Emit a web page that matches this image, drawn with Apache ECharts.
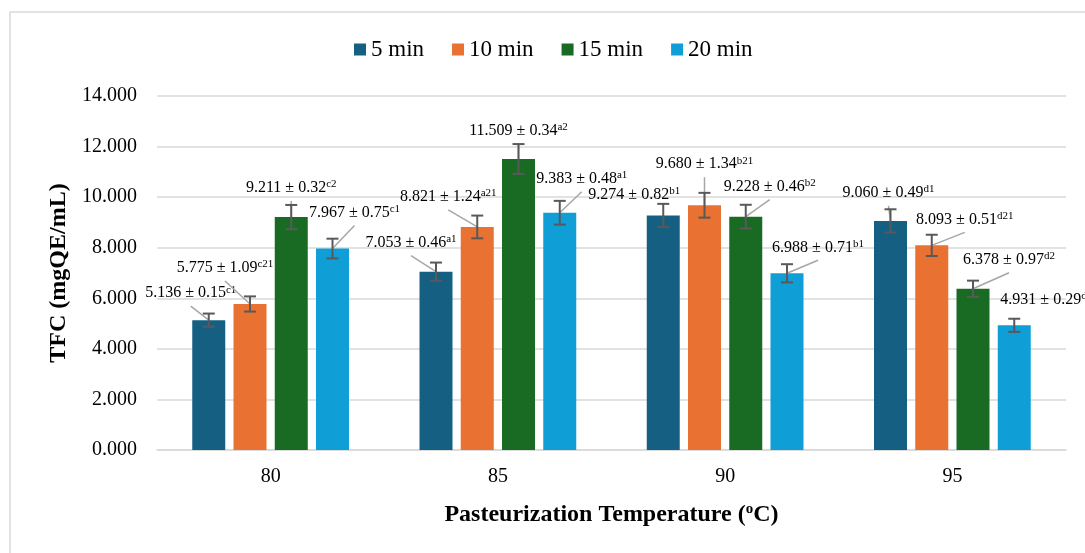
<!DOCTYPE html>
<html>
<head>
<meta charset="utf-8">
<title>TFC by pasteurization temperature</title>
<script src="https://cdn.jsdelivr.net/npm/echarts@6/dist/echarts.min.js"></script>
<style>
    html, body { margin: 0; padding: 0; background: #fff; }
    #chart { width: 1085px; height: 553px; }
</style>
</head>
<body>
<div id="chart"></div>
<script>
// categories
const temperatures = ["80", "85", "90", "95"];
const timeNames = ["5 min", "10 min", "15 min", "20 min"];

// mean TFC (mgQE/mL), one value per temperature
const tfc5 = [5.136, 7.053, 9.274, 9.060];
const tfc10 = [5.775, 8.821, 9.680, 8.093];
const tfc15 = [9.211, 11.509, 9.228, 6.378];
const tfc20 = [7.967, 9.383, 6.988, 4.931];

// half length of the error bars as drawn
const err5 = [0.26, 0.36, 0.46, 0.46];
const err10 = [0.30, 0.45, 0.49, 0.42];
const err15 = [0.48, 0.59, 0.47, 0.32];
const err20 = [0.39, 0.47, 0.36, 0.26];

// label text: sd and letters
const sd5 = ["0.15", "0.46", "0.82", "0.49"];
const sd10 = ["1.09", "1.24", "1.34", "0.51"];
const sd15 = ["0.32", "0.34", "0.46", "0.97"];
const sd20 = ["0.75", "0.48", "0.71", "0.29"];
const sup5 = ["c1", "a1", "b1", "d1"];
const sup10 = ["c21", "a21", "b21", "d21"];
const sup15 = ["c2", "a2", "b2", "d2"];
const sup20 = ["c1", "a1", "b1", "d1"];

const means = [tfc5, tfc10, tfc15, tfc20];
const errs = [err5, err10, err15, err20];
const sds = [sd5, sd10, sd15, sd20];
const sups = [sup5, sup10, sup15, sup20];

// layout / style
const colors = ["#156082", "#E97132", "#196B24", "#0F9ED5"];
const FONT = "'Liberation Serif', 'Times New Roman', serif";
const BAR_W = 33;
const STEP = BAR_W * 1.25; // bar width + gap
// label offset from the top centre of each bar (px)
const labelOffsets = [
    [[-18, -27], [-25, -29], [-29, -21], [-2, -28]],
    [[-25, -36], [-29, -30], [0, -41], [33, -26]],
    [[0, -29], [0, -28], [24, -30], [36, -29]],
    [[22, -36], [22, -34], [31, -26], [32, -26]]
];
const showLeader = [
    [1, 1, 0, 1],
    [1, 1, 1, 1],
    [1, 1, 1, 1],
    [1, 1, 1, 0]
];

let chart = echarts.init(document.getElementById("chart"));

let barSeries = timeNames.map((name, j) => ({
    name: name,
    type: "bar",
    barWidth: BAR_W,
    barGap: "25%",
    itemStyle: { color: colors[j] },
    data: means[j]
}));

let errData = [];
let labelData = [];
for (let j = 0; j < means.length; j++) {
    for (let i = 0; i < temperatures.length; i++) {
        errData.push([i, means[j][i], errs[j][i], j]);
        labelData.push([i, means[j][i], j]);
    }
}

const renderError = (params, api) => {
    let cat = api.value(0);
    let val = api.value(1);
    let err = api.value(2);
    let j = api.value(3);
    let top = api.coord([cat, val + err]);
    let bot = api.coord([cat, val - err]);
    let x = top[0] + (j - 1.5) * STEP;
    let style = { stroke: "#595959", lineWidth: 2 };
    return {
        type: "group",
        children: [
            { type: "line", shape: { x1: x, y1: top[1], x2: x, y2: bot[1] }, style: style },
            { type: "line", shape: { x1: x - 6, y1: top[1], x2: x + 6, y2: top[1] }, style: style },
            { type: "line", shape: { x1: x - 6, y1: bot[1], x2: x + 6, y2: bot[1] }, style: style }
        ]
    };
};

const renderLabel = (params, api) => {
    let cat = api.value(0);
    let val = api.value(1);
    let j = api.value(2);
    let p = api.coord([cat, val]);
    let bx = p[0] + (j - 1.5) * STEP;
    let by = p[1];
    let off = labelOffsets[j][cat];
    let lx = bx + off[0];
    let ly = by + off[1];
    let children = [];
    if (showLeader[j][cat]) {
        children.push({
            type: "line",
            shape: { x1: lx, y1: ly + 13, x2: bx, y2: by },
            style: { stroke: "#a6a6a6", lineWidth: 1.5 }
        });
    }
    children.push({
        type: "text",
        x: lx,
        y: ly,
        style: {
            text: "{v|" + means[j][cat].toFixed(3) + " ± " + sds[j][cat] + "}{s|" + sups[j][cat] + "}",
            align: "center",
            verticalAlign: "middle",
            rich: {
                v: { fontSize: 16, fontFamily: FONT, fill: "#000", lineHeight: 18 },
                s: { fontSize: 11, fontFamily: FONT, fill: "#000", lineHeight: 11, verticalAlign: "top" }
            }
        }
    });
    return { type: "group", children: children };
};

let option = {
    animation: false,
    backgroundColor: "#fff",
    color: colors,
    graphic: [{
        type: "rect",
        silent: true,
        shape: { x: 10, y: 12, width: 1200, height: 700 },
        style: { fill: "none", stroke: "#d9d9d9", lineWidth: 1.5 }
    }],
    legend: {
        data: timeNames,
        left: 349,
        top: 33,
        icon: "rect",
        itemWidth: 12,
        itemHeight: 12,
        itemGap: 28,
        textStyle: { fontSize: 23, fontFamily: FONT, color: "#000" }
    },
    grid: { left: 157, right: 19, top: 96, bottom: 103 },
    xAxis: {
        type: "category",
        data: temperatures,
        axisTick: { show: false },
        axisLine: { lineStyle: { color: "#d9d9d9", width: 1.5 } },
        axisLabel: { fontSize: 20, fontFamily: FONT, color: "#000", margin: 17 },
        name: "{b|Pasteurization Temperature (}{s|o}{b|C)}",
        nameLocation: "middle",
        nameGap: 52,
        nameTextStyle: {
            rich: {
                b: { fontSize: 24, fontWeight: "bold", fontFamily: FONT, color: "#000", lineHeight: 26 },
                s: { fontSize: 15, fontWeight: "bold", fontFamily: FONT, color: "#000", lineHeight: 15, verticalAlign: "top" }
            }
        }
    },
    yAxis: {
        type: "value",
        min: 0,
        max: 14,
        interval: 2,
        axisLabel: {
            fontSize: 20,
            fontFamily: FONT,
            color: "#000",
            margin: 20,
            formatter: v => v.toFixed(3)
        },
        splitLine: { lineStyle: { color: "#d9d9d9", width: 1.5 } },
        name: "TFC (mgQE/mL)",
        nameLocation: "middle",
        nameGap: 86,
        nameTextStyle: { fontSize: 24, fontWeight: "bold", fontFamily: FONT, color: "#000" }
    },
    series: barSeries.concat([
        {
            type: "custom",
            name: "leaders",
            renderItem: renderLabel,
            encode: { x: 0, y: 1 },
            data: labelData,
            z: 3,
            silent: true
        },
        {
            type: "custom",
            name: "errors",
            renderItem: renderError,
            encode: { x: 0, y: 1 },
            data: errData,
            z: 4,
            silent: true
        }
    ])
};

chart.setOption(option);
window.addEventListener("resize", () => chart.resize());
</script>
</body>
</html>
